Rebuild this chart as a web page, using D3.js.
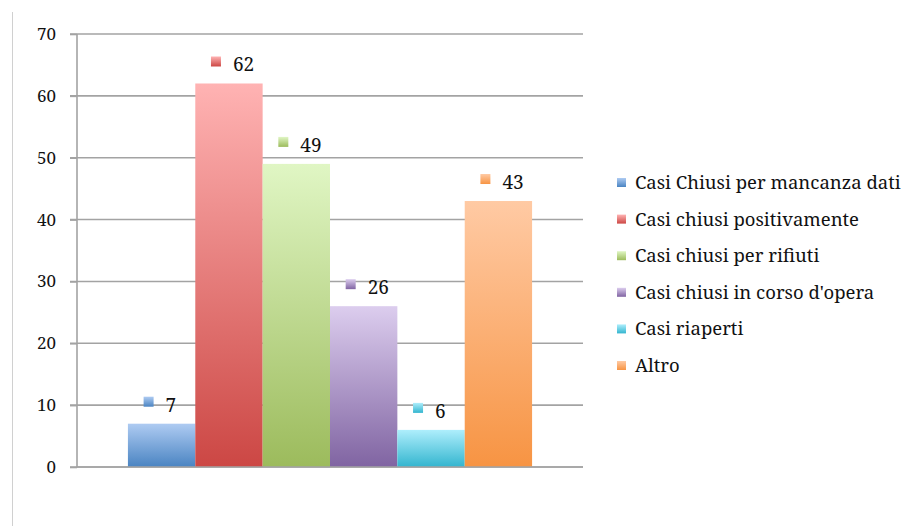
<!DOCTYPE html>
<html>
<head>
<meta charset="utf-8">
<script src="https://cdn.jsdelivr.net/npm/d3@7"></script>
<style>
  html, body { margin: 0; padding: 0; background: #fff; }
  svg { display: block; }
</style>
</head>
<body>
<svg id="chart" width="906" height="526"></svg>
<script>
// Case outcome counts, one bar per series
const seriesNames = [
  "Casi Chiusi per mancanza dati",
  "Casi chiusi positivamente",
  "Casi chiusi per rifiuti",
  "Casi chiusi in corso d'opera",
  "Casi riaperti",
  "Altro"
];
const seriesValues = [7, 62, 49, 26, 6, 43];
const colorsTop = ["#aecbf2", "#ffb3b3", "#e0f6c4", "#dccdee", "#aeeefc", "#ffcaa4"];
const colorsBottom = ["#4a84c2", "#cc4744", "#9cbb5c", "#8064a2", "#33b5cf", "#f79443"];
const yTicks = [0, 10, 20, 30, 40, 50, 60, 70];

const FONT = '"Noto Serif", "Liberation Serif", serif';
const svg = d3.select("#chart");
const margin = { left: 77, right: 906 - 583, top: 34, bottom: 526 - 467 };
const plotW = 906 - margin.left - margin.right;
const plotH = 526 - margin.top - margin.bottom;

// outer frame line on the left edge
svg.append("line")
  .attr("x1", 12.5).attr("x2", 12.5).attr("y1", 12).attr("y2", 526)
  .attr("stroke", "#d0d0d0").attr("stroke-width", 1);

const defs = svg.append("defs");
seriesNames.forEach((s, i) => {
  const g = defs.append("linearGradient")
    .attr("id", "grad" + i).attr("x1", 0).attr("y1", 0).attr("x2", 0).attr("y2", 1);
  g.append("stop").attr("offset", "0%").attr("stop-color", colorsTop[i]);
  g.append("stop").attr("offset", "100%").attr("stop-color", colorsBottom[i]);
});

const g = svg.append("g").attr("transform", `translate(${margin.left},${margin.top})`);

const y = d3.scaleLinear().domain([0, 70]).range([plotH, 0]);
const xOuter = d3.scaleBand().domain(["all"]).range([0, plotW]).paddingInner(0).paddingOuter(0.126);
const x = d3.scaleBand().domain(seriesNames).range([xOuter("all"), xOuter("all") + xOuter.bandwidth()]).padding(0);

// gridlines
g.append("g")
  .selectAll("line")
  .data(yTicks)
  .join("line")
  .attr("x1", -7).attr("x2", plotW)
  .attr("y1", d => y(d)).attr("y2", d => y(d))
  .attr("stroke", "#a3a3a3").attr("stroke-width", 1.6);

// y axis
const yAxis = g.append("g")
  .call(d3.axisLeft(y).tickValues(yTicks).tickSize(7).tickPadding(14));
yAxis.select(".domain").attr("stroke", "#a3a3a3").attr("stroke-width", 1.6).attr("d", `M0,${plotH}V0`);
yAxis.selectAll(".tick line").attr("stroke", "#a3a3a3").attr("stroke-width", 1.6);
yAxis.selectAll(".tick text")
  .style("font-family", FONT)
  .style("font-size", "17px").attr("fill", "#111");

// bars
g.append("g")
  .selectAll("rect")
  .data(seriesNames)
  .join("rect")
  .attr("x", d => x(d))
  .attr("width", x.bandwidth())
  .attr("y", (d, i) => y(seriesValues[i]))
  .attr("height", (d, i) => plotH - y(seriesValues[i]))
  .attr("fill", (d, i) => `url(#grad${i})`);

// redraw baseline over bars
g.append("line")
  .attr("x1", 0).attr("x2", plotW).attr("y1", plotH).attr("y2", plotH)
  .attr("stroke", "#a3a3a3").attr("stroke-width", 1.6);

// value labels with a small series marker
const labels = g.append("g")
  .selectAll("g")
  .data(seriesNames)
  .join("g")
  .attr("transform", (d, i) => `translate(${x(d) + x.bandwidth() / 2},${y(seriesValues[i]) - 21})`);
labels.append("rect")
  .attr("x", -18).attr("y", -6).attr("width", 10).attr("height", 10)
  .attr("fill", (d, i) => `url(#grad${i})`);
labels.append("text")
  .attr("x", 4).attr("y", 9)
  .style("font-family", FONT).style("font-size", "19px").attr("fill", "#111")
  .text((d, i) => seriesValues[i]);

// legend
const legend = svg.append("g").attr("transform", "translate(617,183)");
const items = legend.selectAll("g")
  .data(seriesNames)
  .join("g")
  .attr("transform", (d, i) => `translate(0,${i * 36.6})`);
items.append("rect")
  .attr("x", 0).attr("y", -5).attr("width", 9).attr("height", 9)
  .attr("fill", (d, i) => `url(#grad${i})`);
items.append("text")
  .attr("x", 18).attr("y", 6)
  .style("font-family", FONT).style("font-size", "18.5px").attr("fill", "#111")
  .text(d => d);
</script>
</body>
</html>
